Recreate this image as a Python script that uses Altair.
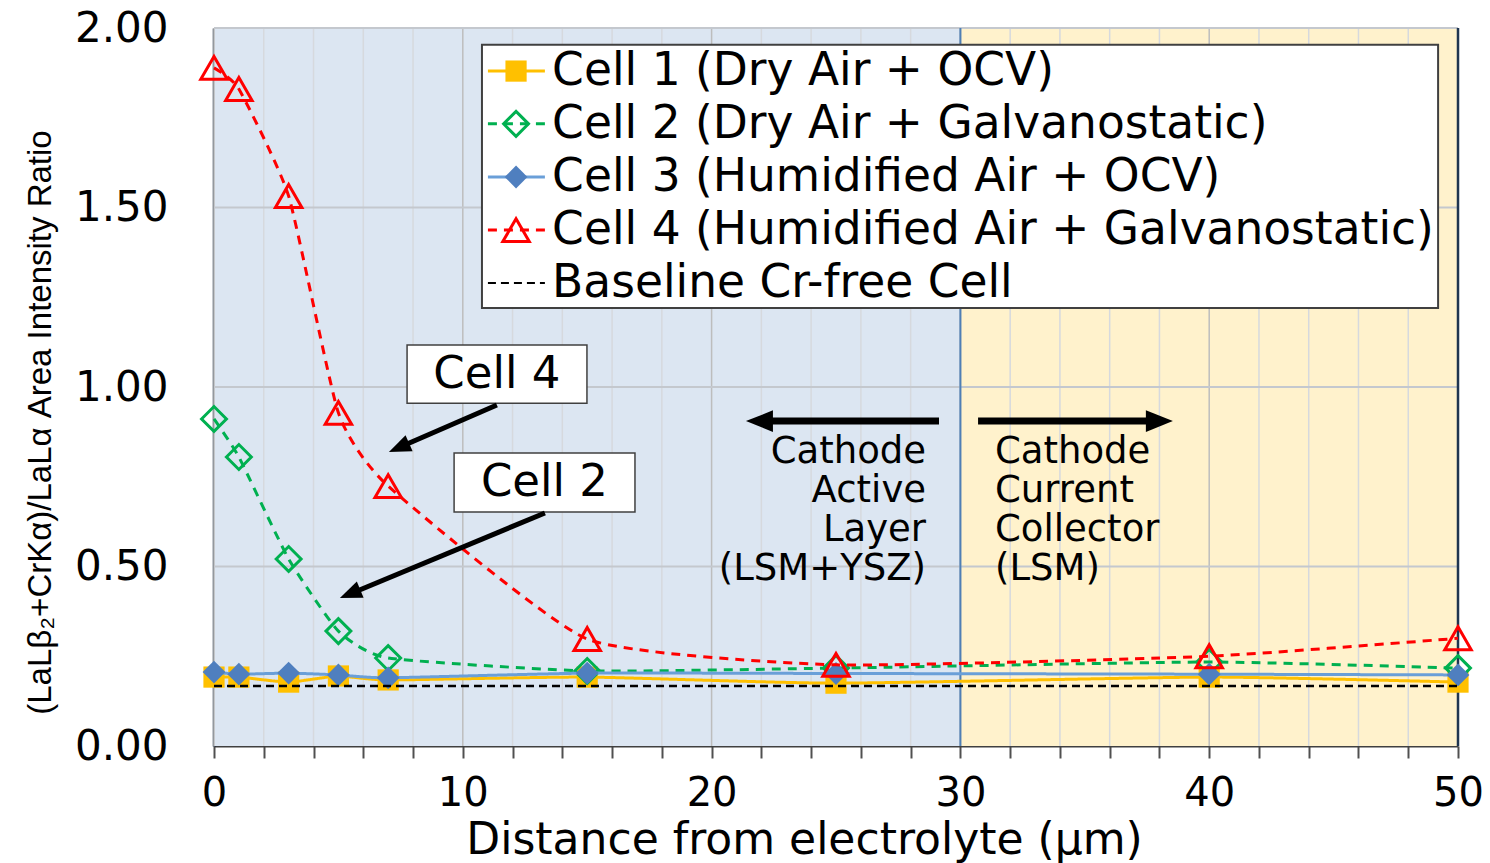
import math
import altair as alt
import pandas as pd

# ---- measurements -------------------------------------------------------
distance = [0, 1, 3, 5, 7, 15, 25, 40, 50]  # µm from electrolyte
cell1 = [0.192, 0.192, 0.178, 0.195, 0.184, 0.192, 0.175, 0.192, 0.178]
cell2 = [0.911, 0.805, 0.521, 0.320, 0.245, 0.209, 0.217, 0.234, 0.217]
cell3 = [0.206, 0.200, 0.203, 0.198, 0.190, 0.203, 0.202, 0.200, 0.198]
cell4 = [1.889, 1.830, 1.532, 0.928, 0.724, 0.298, 0.226, 0.250, 0.300]
baseline_value = 0.167

series_names = [
    "Cell 1 (Dry Air + OCV)",
    "Cell 2 (Dry Air + Galvanostatic)",
    "Cell 3 (Humidified Air + OCV)",
    "Cell 4 (Humidified Air + Galvanostatic)",
]
baseline_name = "Baseline Cr-free Cell"

x_ticks = list(range(0, 51, 2))
y_ticks = [0.0, 0.5, 1.0, 1.5, 2.0]

# ---- layout --------------------------------------------------------------
W, H = 1244, 718
X_MAX, Y_MAX = 50, 2.0
PX_X = W / X_MAX
PX_Y = H / Y_MAX
FONT = "DejaVu Sans"

xs = alt.Scale(domain=[0, X_MAX], nice=False, zero=False)
ys = alt.Scale(domain=[0, Y_MAX], nice=False, zero=False)

styles = [
    dict(line="#FFC000", marker="#FFC000", dash=[1, 0], shape="square", filled=True, size=450, sw=3),
    dict(line="#00B050", marker="#00B050", dash=[9, 7], shape="diamond", filled=False, size=620, sw=3),
    dict(line="#6A9FD8", marker="#4F7FBF", dash=[1, 0], shape="diamond", filled=True, size=520, sw=3),
    dict(line="#FF0000", marker="#FF0000", dash=[9, 7], shape="triangle-up", filled=False, size=700, sw=3),
]

x_axis = alt.Axis(
    values=x_ticks,
    labelExpr="datum.value % 10 == 0 ? datum.label : ''",
    labelFlush=False,
    labelOverlap=False,
    grid=False,
    domainColor="#404040",
    domainWidth=2,
    tickColor="#505050",
    tickWidth=2,
    tickSize=12,
    labelFont=FONT,
    labelFontSize=40,
    labelColor="black",
    labelPadding=15,
    title="Distance from electrolyte (μm)",
    titleFont=FONT,
    titleFontSize=44,
    titleFontWeight="normal",
    titleColor="black",
    titleX=590,
    titleY=107,
    titleAlign="center",
    titleBaseline="alphabetic",
)

y_axis = alt.Axis(
    values=y_ticks,
    format=".2f",
    grid=False,
    ticks=False,
    tickSize=0,
    domainColor="#1F2D40",
    domainWidth=3.5,
    labelFont=FONT,
    labelFontSize=42,
    labelColor="black",
    labelPadding=46,
    title="(LaLβ₂+CrKα)/LaLα Area Intensity Ratio",
    titleFont="Liberation Sans",
    titleFontSize=33,
    titleFontWeight="normal",
    titleColor="black",
    titleAngle=270,
    titleX=-174,
    titleY=394,
    titleAlign="center",
    titleBaseline="middle",
)


# every layer carries the same axis definition so the shared axes merge cleanly
def X(field):
    return alt.X(field, type="quantitative", scale=xs, axis=x_axis)


def Y(field):
    return alt.Y(field, type="quantitative", scale=ys, axis=y_axis)


layers = []

# shaded regions: active layer (LSM+YSZ) and current collector (LSM)
regions = pd.DataFrame({"x0": [0, 30], "x1": [30, 50], "fill": ["#DCE6F2", "#FFF2CC"]})
layers.append(
    alt.Chart(regions).mark_rect().encode(
        x=X("x0"), x2="x1", y=alt.value(0), y2=alt.value(H),
        color=alt.Color("fill:N", scale=None),
    )
)

# grid
vgrid = pd.DataFrame({"g": x_ticks})
layers.append(
    alt.Chart(vgrid).mark_rule(strokeWidth=1.5).encode(
        x=X("g"),
        color=alt.condition("datum.g % 10 == 0", alt.value("#BDBDBD"), alt.value("#D6D9DE")),
    )
)
hgrid = pd.DataFrame({"g": y_ticks[1:]})
layers.append(
    alt.Chart(hgrid).mark_rule(strokeWidth=2, color="#C4C8CE").encode(y=Y("g"))
)

# region divider and right frame
layers.append(
    alt.Chart(pd.DataFrame({"x": [30]})).mark_rule(color="#4F7FB5", strokeWidth=2).encode(x=X("x"))
)
layers.append(
    alt.Chart(pd.DataFrame({"x": [50]})).mark_rule(color="#1F3550", strokeWidth=2.5).encode(x=X("x"))
)

# data series (smoothed lines with markers)
for name, vals, st in zip(series_names, [cell1, cell2, cell3, cell4], styles):
    df = pd.DataFrame({"d": distance, "v": vals, "s": name})
    layers.append(
        alt.Chart(df).mark_line(
            color=st["line"], strokeWidth=st["sw"], strokeDash=st["dash"],
            interpolate="cardinal", tension=0.5,
        ).encode(x=X("d"), y=Y("v"))
    )
    layers.append(
        alt.Chart(df).mark_point(
            shape=st["shape"], filled=st["filled"], size=st["size"],
            color=st["marker"], strokeWidth=3, opacity=1,
        ).encode(x=X("d"), y=Y("v"))
    )

# baseline of the Cr-free cell
layers.append(
    alt.Chart(pd.DataFrame({"y": [baseline_value], "x0": [0], "x1": [50]})).mark_rule(
        color="black", strokeWidth=2.5, strokeDash=[8, 5]
    ).encode(x=X("x0"), x2="x1", y=Y("y"))
)

# region labels with direction arrows
left_lines = ["Cathode", "Active", "Layer", "(LSM+YSZ)"]
right_lines = ["Cathode", "Current", "Collector", "(LSM)"]
line_y = [0.819, 0.710, 0.602, 0.493]
layers.append(
    alt.Chart(pd.DataFrame({"x": [28.62] * 4, "y": line_y, "t": left_lines})).mark_text(
        font=FONT, fontSize=37, align="right", baseline="middle", color="black"
    ).encode(x=X("x"), y=Y("y"), text="t:N")
)
layers.append(
    alt.Chart(pd.DataFrame({"x": [31.39] * 4, "y": line_y, "t": right_lines})).mark_text(
        font=FONT, fontSize=37, align="left", baseline="middle", color="black"
    ).encode(x=X("x"), y=Y("y"), text="t:N")
)

# callout boxes
boxes = pd.DataFrame({
    "x0": [7.76, 9.65], "x1": [14.99, 16.92],
    "y0": [0.955, 0.652], "y1": [1.117, 0.816],
    "t": ["Cell 4", "Cell 2"], "tx": [11.37, 13.28], "ty": [1.036, 0.735],
})
layers.append(
    alt.Chart(boxes).mark_rect(fill="white", stroke="#404040", strokeWidth=1.5).encode(
        x=X("x0"), x2="x1", y=Y("y0"), y2="y1"
    )
)
layers.append(
    alt.Chart(boxes).mark_text(font=FONT, fontSize=45, align="center", baseline="middle", color="black").encode(
        x=X("tx"), y=Y("ty"), text="t:N"
    )
)

# arrows: start, tip, line width, head length (px)
arrow_specs = [
    (11.37, 0.950, 7.03, 0.819, 5, 22),
    (13.30, 0.649, 5.06, 0.412, 5, 22),
    (29.14, 0.905, 21.38, 0.905, 7, 27),
    (30.71, 0.905, 38.54, 0.905, 7, 27),
]
shaft_rows, head_rows = [], []
for xs0, ys0, xt, yt, lw, head in arrow_specs:
    dxp = (xt - xs0) * PX_X
    dyp = -(yt - ys0) * PX_Y
    length = math.hypot(dxp, dyp)
    back = head * 0.7 / length
    shaft_rows.append(dict(x=xs0, y=ys0, x2=xt - (xt - xs0) * back, y2=yt - (yt - ys0) * back, w=lw))
    head_rows.append(dict(x=xt, y=yt, ang=math.degrees(math.atan2(dxp, -dyp)) % 360, sz=head * head))
layers.append(
    alt.Chart(pd.DataFrame(shaft_rows)).mark_rule(color="black", strokeCap="butt").encode(
        x=X("x"), y=Y("y"), x2="x2", y2="y2", strokeWidth=alt.StrokeWidth("w:Q", scale=None)
    )
)
layers.append(
    alt.Chart(pd.DataFrame(head_rows)).mark_point(
        shape="M0,0 L-0.8,2 L0.8,2 Z", filled=True, color="black", opacity=1
    ).encode(
        x=X("x"), y=Y("y"),
        angle=alt.Angle("ang:Q", scale=None), size=alt.Size("sz:Q", scale=None),
    )
)

# legend
leg_rows = [1.880, 1.733, 1.585, 1.437, 1.290]
LEG_X0, LEG_X1, LEG_MARK, LEG_TEXT = 11.01, 13.30, 12.14, 13.59
layers.append(
    alt.Chart(pd.DataFrame({"x0": [10.77], "x1": [49.20], "y0": [1.220], "y1": [1.953]})).mark_rect(
        fill="white", stroke="#404040", strokeWidth=2
    ).encode(x=X("x0"), x2="x1", y=Y("y0"), y2="y1")
)
for i, st in enumerate(styles):
    row = pd.DataFrame({"x0": [LEG_X0], "x1": [LEG_X1], "xm": [LEG_MARK], "y": [leg_rows[i]]})
    layers.append(
        alt.Chart(row).mark_rule(color=st["line"], strokeWidth=st["sw"], strokeDash=st["dash"]).encode(
            x=X("x0"), x2="x1", y=Y("y")
        )
    )
    layers.append(
        alt.Chart(row).mark_point(
            shape=st["shape"], filled=st["filled"], size=st["size"],
            color=st["marker"], strokeWidth=3, opacity=1,
        ).encode(x=X("xm"), y=Y("y"))
    )
layers.append(
    alt.Chart(pd.DataFrame({"x0": [LEG_X0], "x1": [LEG_X1], "y": [leg_rows[4]]})).mark_rule(
        color="black", strokeWidth=2, strokeDash=[8, 5]
    ).encode(x=X("x0"), x2="x1", y=Y("y"))
)
legend_text = pd.DataFrame({"x": [LEG_TEXT] * 5, "y": leg_rows, "t": series_names + [baseline_name]})
layers.append(
    alt.Chart(legend_text).mark_text(font=FONT, fontSize=45.5, align="left", baseline="middle", color="black").encode(
        x=X("x"), y=Y("y"), text="t:N"
    )
)

chart = (
    alt.layer(*layers)
    .properties(
        width=W,
        height=H,
        autosize=alt.AutoSizeParams(type="none"),
        padding={"left": 214, "top": 28, "right": 32, "bottom": 117},
        background="white",
    )
    .configure_view(stroke="transparent")
)

chart.save("out.html", embed_options={"renderer": "svg", "actions": False})
